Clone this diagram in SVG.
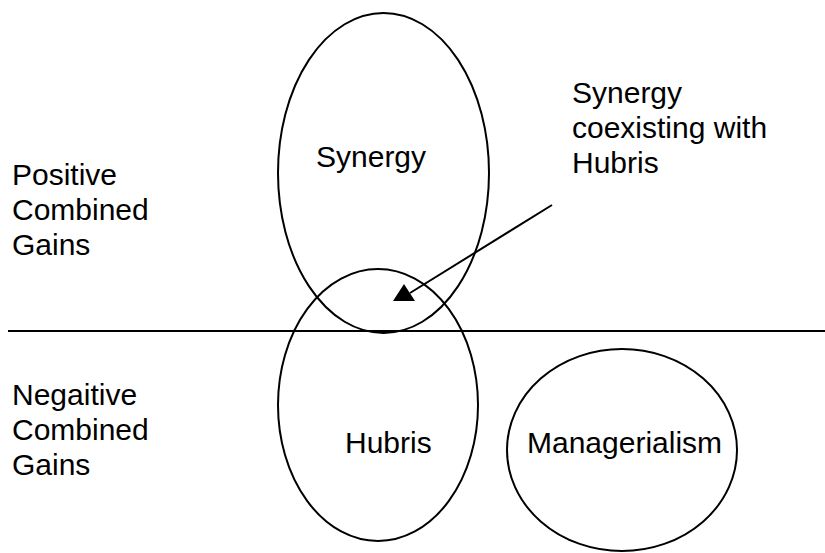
<svg xmlns="http://www.w3.org/2000/svg" width="825" height="553" viewBox="0 0 825 553">
  <style>
    .shape { fill: none; stroke: #000; stroke-width: 2; }
    .label { font-family: "Liberation Sans", Arial, sans-serif; font-size: 30px; fill: #000; }
  </style>
  <rect width="825" height="553" fill="#fff"/>

  <!-- divider between positive and negative gains -->
  <line class="shape" x1="8" y1="331" x2="825" y2="331"/>

  <!-- axis labels -->
  <g id="positive-label">
    <text class="label" x="12" y="185">Positive</text>
    <text class="label" x="12" y="220">Combined</text>
    <text class="label" x="12" y="255">Gains</text>
  </g>
  <g id="negative-label">
    <text class="label" x="12" y="405">Negaitive</text>
    <text class="label" x="12" y="440">Combined</text>
    <text class="label" x="12" y="475">Gains</text>
  </g>

  <g id="synergy">
    <ellipse class="shape" cx="383.5" cy="173" rx="105.5" ry="160"/>
    <text class="label" x="316" y="167">Synergy</text>
  </g>

  <g id="hubris">
    <ellipse class="shape" cx="378" cy="405" rx="100" ry="136"/>
    <text class="label" x="345" y="453">Hubris</text>
  </g>

  <g id="managerialism">
    <ellipse class="shape" cx="622" cy="450" rx="115" ry="101"/>
    <text class="label" x="527" y="453">Managerialism</text>
  </g>

  <g id="overlap-note">
    <text class="label" x="572" y="103">Synergy</text>
    <text class="label" x="572" y="138">coexisting with</text>
    <text class="label" x="572" y="173">Hubris</text>
  </g>

  <g id="connectors">
    <line class="shape" x1="552" y1="205" x2="410" y2="293"/>
    <polygon points="404,284 393,301 415,301" fill="#000"/>
  </g>
</svg>
